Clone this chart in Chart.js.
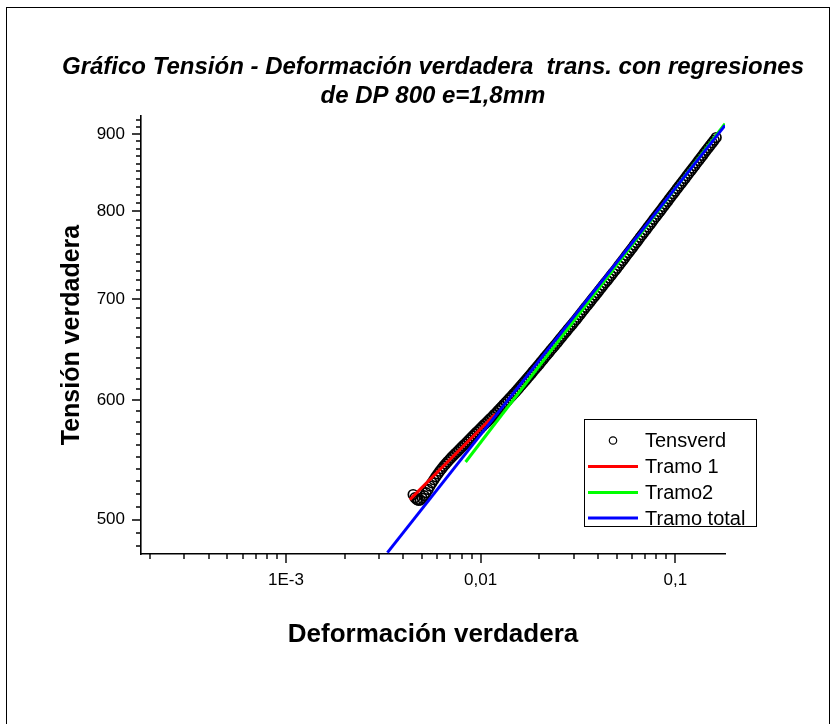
<!DOCTYPE html>
<html>
<head>
<meta charset="utf-8">
<script src="https://cdn.jsdelivr.net/npm/chart.js@4.4.1/dist/chart.umd.min.js"></script>
<style>
  html, body { margin: 0; padding: 0; background: #ffffff; }
  canvas { display: block; }
</style>
</head>
<body>
<canvas id="chart" width="837" height="724"></canvas>
<script>
// True strain / true stress (transverse), DP 800, e = 1.8 mm
const strainVerd = [
  0.00450, 0.00460, 0.00470, 0.004786, 0.004898, 0.005012, 0.005129, 0.005248, 0.005370, 0.005495,
  0.005623, 0.005754, 0.005888, 0.006026, 0.006166, 0.006310, 0.006457, 0.006607, 0.006761, 0.006918,
  0.007079, 0.007244, 0.007413, 0.007586, 0.007762, 0.007943, 0.008128, 0.008318, 0.008511, 0.008710,
  0.008913, 0.009120, 0.009333, 0.009550, 0.009772, 0.010000, 0.010233, 0.010471, 0.010715, 0.010965,
  0.011220, 0.011482, 0.011749, 0.012023, 0.012303, 0.012589, 0.012882, 0.013183, 0.013490, 0.013804,
  0.014125, 0.014454, 0.014791, 0.015136, 0.015488, 0.015849, 0.016218, 0.016596, 0.016982, 0.017378,
  0.017783, 0.018197, 0.018621, 0.019055, 0.019498, 0.019953, 0.020417, 0.020893, 0.021380, 0.021878,
  0.022387, 0.022909, 0.023442, 0.023988, 0.024547, 0.025119, 0.025704, 0.026303, 0.026915, 0.027542,
  0.028184, 0.028840, 0.029512, 0.030200, 0.030903, 0.031623, 0.032359, 0.033113, 0.033884, 0.034674,
  0.035481, 0.036308, 0.037154, 0.038019, 0.038905, 0.039811, 0.040738, 0.041687, 0.042658, 0.043652,
  0.044668, 0.045709, 0.046774, 0.047863, 0.048978, 0.050119, 0.051286, 0.052481, 0.053703, 0.054954,
  0.056234, 0.057544, 0.058884, 0.060256, 0.061660, 0.063096, 0.064565, 0.066069, 0.067608, 0.069183,
  0.070795, 0.072444, 0.074131, 0.075858, 0.077625, 0.079433, 0.081283, 0.083176, 0.085114, 0.087096,
  0.089125, 0.091201, 0.093325, 0.095499, 0.097724, 0.100000, 0.10233, 0.10471, 0.10715, 0.10965,
  0.11220, 0.11482, 0.11749, 0.12023, 0.12303, 0.12589, 0.12882, 0.13183, 0.13490, 0.13804,
  0.14125, 0.14454, 0.14791, 0.15136, 0.15488, 0.15849, 0.16218
];
const stressVerd = [
  519.5, 517.0, 515.6, 515.0, 515.2, 516.6, 518.6, 521.0, 523.6, 526.3,
  528.9, 531.4, 533.8, 536.1, 538.3, 540.4, 542.4, 544.3, 546.1, 547.9,
  549.7, 551.3, 553.0, 554.6, 556.3, 557.9, 559.6, 561.2, 562.9, 564.6,
  566.3, 568.0, 569.7, 571.4, 573.1, 574.8, 576.5, 578.2, 579.9, 581.6,
  583.3, 585.0, 586.8, 588.5, 590.4, 592.3, 594.2, 596.1, 598.0, 599.9,
  601.8, 603.7, 605.7, 607.7, 609.8, 611.9, 614.0, 616.1, 618.2, 620.3,
  622.4, 624.6, 626.8, 629.0, 631.2, 633.4, 635.7, 638.0, 640.3, 642.6,
  644.9, 647.2, 649.5, 651.8, 654.1, 656.5, 658.9, 661.3, 663.7, 666.1,
  668.5, 670.9, 673.3, 675.7, 678.2, 680.7, 683.2, 685.8, 688.4, 691.0,
  693.6, 696.2, 698.8, 701.4, 704.0, 706.6, 709.2, 711.9, 714.6, 717.3,
  720.0, 722.7, 725.4, 728.1, 730.8, 733.5, 736.4, 739.3, 742.2, 745.1,
  748.0, 750.9, 753.8, 756.8, 759.8, 762.8, 765.8, 768.8, 771.8, 774.8,
  777.8, 780.9, 784.0, 787.1, 790.2, 793.3, 796.4, 799.5, 802.6, 805.7,
  808.9, 812.1, 815.3, 818.5, 821.7, 824.9, 828.1, 831.3, 834.5, 837.8,
  841.1, 844.4, 847.7, 851.0, 854.3, 857.6, 860.9, 864.3, 867.7, 871.1,
  874.5, 877.9, 881.3, 884.7, 888.1, 891.6, 895.1
];

// Power-law regressions (straight lines on log-log axes): end points
const tramo1Strain = [0.00433, 0.0119];
const tramo1Stress = [515.5, 587.3];
const tramo2Strain = [0.00837, 0.18];
const tramo2Stress = [545.9, 914.1];
const tramoTotalStrain = [0.00332, 0.18];
const tramoTotalStress = [475.5, 911.8];

const seriesNames = ['Tensverd', 'Tramo 1', 'Tramo2', 'Tramo total'];
const seriesColors = ['#000000', '#ff0000', '#00ff00', '#0000ff'];

const titleLines = [
  'Gráfico Tensión - Deformación verdadera  trans. con regresiones',
  'de DP 800 e=1,8mm'
];
const xAxisTitle = 'Deformación verdadera';
const yAxisTitle = 'Tensión verdadera';

const xMajorTicks = [0.001, 0.01, 0.1];
const xTickLabels = ['1E-3', '0,01', '0,1'];
const xMinorTicks = [
  0.0002, 0.0003, 0.0004, 0.0005, 0.0006, 0.0007, 0.0008, 0.0009,
  0.002, 0.003, 0.004, 0.005, 0.006, 0.007, 0.008, 0.009,
  0.02, 0.03, 0.04, 0.05, 0.06, 0.07, 0.08, 0.09
];
const yMajorTicks = [500, 600, 700, 800, 900];
const yTickLabels = ['500', '600', '700', '800', '900'];
const yMinorTicks = [
  480, 490, 510, 520, 530, 540, 550, 560, 570, 580, 590,
  610, 620, 630, 640, 650, 660, 670, 680, 690,
  710, 720, 730, 740, 750, 760, 770, 780, 790,
  810, 820, 830, 840, 850, 860, 870, 880, 890, 910, 920
];

const FONT = '"Liberation Sans", Arial, Helvetica, sans-serif';
Chart.defaults.font.family = FONT;
Chart.defaults.color = '#000000';

const toPoints = (xs, ys) => xs.map((v, i) => ({ x: v, y: ys[i] }));

// White page with the outer frame
const pageFrame = {
  id: 'pageFrame',
  beforeDraw(chart) {
    const ctx = chart.ctx;
    ctx.save();
    ctx.fillStyle = '#ffffff';
    ctx.fillRect(0, 0, chart.width, chart.height);
    ctx.strokeStyle = '#000000';
    ctx.lineWidth = 1;
    ctx.strokeRect(6.5, 7.5, 823, 760);
    ctx.restore();
  }
};

// Heading above the plot, centred on the plot area
const heading = {
  id: 'heading',
  afterDraw(chart) {
    const ctx = chart.ctx;
    const area = chart.chartArea;
    const cx = (area.left + area.right) / 2;
    ctx.save();
    ctx.fillStyle = '#000000';
    ctx.font = 'italic bold 24px ' + FONT;
    ctx.textAlign = 'center';
    ctx.textBaseline = 'middle';
    ctx.fillText(titleLines[0], cx, 67);
    ctx.fillText(titleLines[1], cx, 96);
    ctx.restore();
  }
};

// Outward tick marks: long for labelled values, short for the minor ones
const tickMarks = {
  id: 'tickMarks',
  afterDraw(chart) {
    const ctx = chart.ctx;
    const xs = chart.scales.x, ys = chart.scales.y;
    const area = chart.chartArea;
    ctx.save();
    ctx.strokeStyle = '#000000';
    ctx.lineWidth = 1.4;
    ctx.beginPath();
    const xMark = (v, len) => {
      const p = Math.round(xs.getPixelForValue(v));
      ctx.moveTo(p, area.bottom);
      ctx.lineTo(p, area.bottom + len);
    };
    const yMark = (v, len) => {
      const p = Math.round(ys.getPixelForValue(v));
      ctx.moveTo(area.left, p);
      ctx.lineTo(area.left - len, p);
    };
    xMajorTicks.forEach(v => xMark(v, 9));
    xMinorTicks.forEach(v => xMark(v, 5));
    yMajorTicks.forEach(v => yMark(v, 9));
    yMinorTicks.forEach(v => yMark(v, 5));
    ctx.stroke();
    ctx.restore();
  }
};

// Boxed legend inside the plot
const boxLegend = {
  id: 'boxLegend',
  afterDraw(chart) {
    const ctx = chart.ctx;
    const left = 584.5, top = 419.5, w = 172, h = 107;
    const rows = [440.5, 466.5, 492.5, 518];
    ctx.save();
    ctx.fillStyle = '#ffffff';
    ctx.fillRect(left, top, w, h);
    ctx.strokeStyle = '#000000';
    ctx.lineWidth = 1;
    ctx.strokeRect(left, top, w, h);
    ctx.font = '20px ' + FONT;
    ctx.textAlign = 'left';
    ctx.textBaseline = 'middle';
    seriesNames.forEach((name, i) => {
      const y = rows[i];
      if (i === 0) {
        ctx.beginPath();
        ctx.lineWidth = 1.2;
        ctx.strokeStyle = seriesColors[0];
        ctx.arc(613, y, 3.7, 0, Math.PI * 2);
        ctx.stroke();
      } else {
        ctx.beginPath();
        ctx.lineWidth = 3;
        ctx.strokeStyle = seriesColors[i];
        ctx.moveTo(588, y);
        ctx.lineTo(638, y);
        ctx.stroke();
      }
      ctx.fillStyle = '#000000';
      ctx.fillText(name, 645, y + 1);
    });
    ctx.restore();
  }
};

new Chart(document.getElementById('chart'), {
  type: 'scatter',
  data: {
    datasets: [
      {
        label: seriesNames[0],
        data: toPoints(strainVerd, stressVerd),
        showLine: false,
        pointStyle: 'circle',
        pointRadius: 4.8,
        pointBorderWidth: 1.7,
        pointBorderColor: seriesColors[0],
        pointBackgroundColor: 'rgba(0,0,0,0)',
        order: 4
      },
      {
        label: seriesNames[1],
        data: toPoints(tramo1Strain, tramo1Stress),
        showLine: true,
        borderColor: seriesColors[1],
        borderWidth: 3,
        pointRadius: 0,
        order: 3
      },
      {
        label: seriesNames[2],
        data: toPoints(tramo2Strain, tramo2Stress),
        showLine: true,
        borderColor: seriesColors[2],
        borderWidth: 3,
        pointRadius: 0,
        order: 2
      },
      {
        label: seriesNames[3],
        data: toPoints(tramoTotalStrain, tramoTotalStress),
        showLine: true,
        borderColor: seriesColors[3],
        borderWidth: 3,
        pointRadius: 0,
        order: 1
      }
    ]
  },
  options: {
    responsive: false,
    devicePixelRatio: 1,
    animation: false,
    events: [],
    layout: { padding: { left: 0, right: 112, top: 116, bottom: 0 } },
    plugins: {
      legend: { display: false },
      title: { display: false },
      tooltip: { enabled: false }
    },
    scales: {
      x: {
        type: 'logarithmic',
        position: 'bottom',
        min: 0.00018,
        max: 0.18,
        afterBuildTicks: s => { s.ticks = xMajorTicks.map(v => ({ value: v })); },
        afterFit: s => { s.height = 170; },
        grid: { display: false, drawTicks: true, tickLength: 9 },
        border: { display: true, color: '#000000', width: 1.6 },
        ticks: {
          autoSkip: false, maxRotation: 0, padding: 7, color: '#000000',
          font: { size: 17 },
          callback: (v, i) => xTickLabels[i]
        },
        title: {
          display: true, text: xAxisTitle, color: '#000000',
          font: { size: 26, weight: 'bold' },
          padding: { top: 0, bottom: 74 }
        }
      },
      y: {
        type: 'logarithmic',
        position: 'left',
        min: 474.5,
        max: 925,
        afterBuildTicks: s => { s.ticks = yMajorTicks.map(v => ({ value: v })); },
        afterFit: s => { s.width = 141; },
        grid: { display: false, drawTicks: true, tickLength: 9 },
        border: { display: true, color: '#000000', width: 1.6 },
        ticks: {
          autoSkip: false, padding: 7, color: '#000000',
          font: { size: 17 },
          callback: (v, i) => yTickLabels[i]
        },
        title: {
          display: true, text: yAxisTitle, color: '#000000',
          font: { size: 25, weight: 'bold' },
          padding: { top: 57, bottom: 0 }
        }
      }
    }
  },
  plugins: [pageFrame, heading, tickMarks, boxLegend]
});
</script>
</body>
</html>
